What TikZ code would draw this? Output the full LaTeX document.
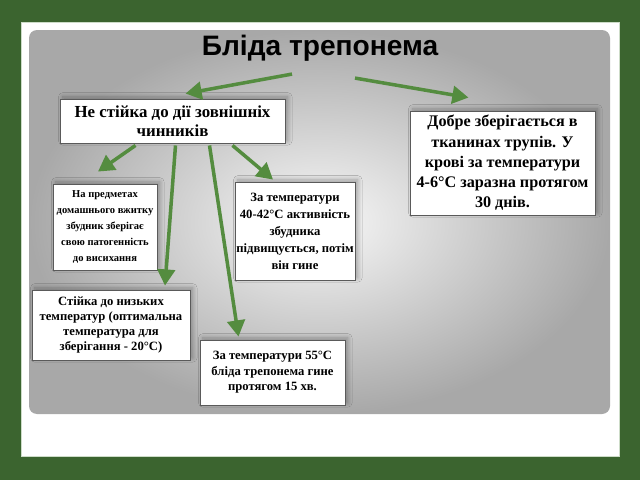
\documentclass[tikz,border=0pt]{standalone}
\usepackage{fontspec}
\setmainfont{Liberation Serif}
\newfontfamily\titlefont{Liberation Sans}
\usetikzlibrary{arrows.meta,calc,shadows.blur}
\definecolor{bggreen}{RGB}{59,100,47}
\definecolor{arrgreen}{RGB}{84,140,63}
\definecolor{boxedge}{RGB}{90,90,90}
\definecolor{panelout}{RGB}{168,168,168}
\definecolor{panelin}{RGB}{248,248,248}
\begin{document}
\begin{tikzpicture}[x=0.025cm,y=-0.025cm,
  box/.style={draw=boxedge, line width=0.6pt, fill=white, align=center,
    inner sep=0pt,
    blur shadow={shadow xshift=2pt, shadow yshift=1.5pt, shadow blur radius=3pt, shadow blur steps=8, shadow opacity=30}},
  arr/.style={draw=arrgreen, line width=2.5pt,
    -{Triangle[length=11.5pt,width=12.5pt]}}
]
\fill[bggreen] (0,0) rectangle (640,480);
\useasboundingbox (0,0) rectangle (640,480);
\fill[white, draw={rgb,255:red,205;green,220;blue,200}, line width=0.6pt] (21,22) rectangle (619,456);
\shade[inner color=panelin, outer color=panelout, rounded corners=0.2cm] (29,30) rectangle (610,414);

\node[font=\titlefont\bfseries\fontsize{20}{24}\selectfont] (title) at (320,48) {Бліда трепонема};

\node[box, minimum width=5.625cm, minimum height=1.1cm,
  font=\bfseries\fontsize{12}{13.5}\selectfont] (top) at (172.5,121)
  {Не стійка до дії зовнішніх\\чинників};
\node[box, minimum width=4.625cm, minimum height=2.6cm,
  font=\bfseries\fontsize{11.5}{14.4}\selectfont] (right) at (502.5,163)
  {Добре зберігається в\\тканинах трупів. У\\крові за температури\\4-6°C заразна протягом\\30 днів.};
\node[box, minimum width=2.6cm, minimum height=2.15cm,
  font=\bfseries\fontsize{7.5}{11.4}\selectfont] (pred) at (105,227)
  {На предметах\\домашнього вжитку\\збудник зберігає\\свою патогенність\\до висихання};
\node[box, minimum width=3cm, minimum height=2.45cm,
  font=\bfseries\fontsize{9}{12.1}\selectfont] (t40) at (295,231)
  {За температури\\40-42°C активність\\збудника\\підвищується, потім\\він гине};
\node[box, minimum width=3.95cm, minimum height=1.75cm,
  font=\bfseries\fontsize{9}{10.8}\selectfont] (low) at (111,325)
  {Стійка до низьких\\температур (оптимальна\\температура для\\зберігання - 20°C)};
\node[box, minimum width=3.625cm, minimum height=1.625cm,
  font=\bfseries\fontsize{9}{11}\selectfont] (t55) at (272.5,372.5)
  {За температури 55°C\\бліда трепонема гине\\протягом 15 хв.};

\draw[arr] ($(title.south)+(-28,8)$) -- ($(top.north)+(13,-5)$);
\draw[arr] ($(title.south)+(35,12)$) -- ($(right.north)+(-34,-13)$);
\draw[arr] ($(top.south)+(-37,2)$) -- ($(pred.north)+(-7,-12)$);
\draw[arr] ($(top.south)+(60,2)$) -- ($(t40.north)+(-22,-2)$);
\draw[arr] ($(top.south)+(3,2)$) -- ($(low.north)+(54,-4)$);
\draw[arr] ($(top.south)+(37,2)$) -- ($(t55.north)+(-34,-3)$);
\end{tikzpicture}
\end{document}
